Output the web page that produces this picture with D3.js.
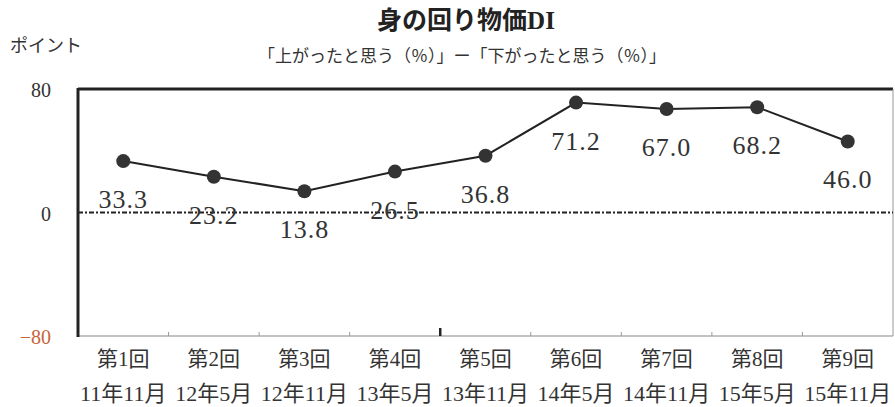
<!DOCTYPE html>
<html><head><meta charset="utf-8">
<script src="https://cdn.jsdelivr.net/npm/d3@7"></script>
<style>
body{margin:0;background:#fff;}
svg{display:block;}
</style></head>
<body>
<svg id="c" width="895" height="407"></svg>
<script>
const rounds = ["第1回","第2回","第3回","第4回","第5回","第6回","第7回","第8回","第9回"];
const periods = ["11年11月","12年5月","12年11月","13年5月","13年11月","14年5月","14年11月","15年5月","15年11月"];
const values = [33.3, 23.2, 13.8, 26.5, 36.8, 71.2, 67.0, 68.2, 46.0];
const yTicks = [80, 0, -80];
const title = "身の回り物価DI";
const subtitle = "「上がったと思う（％）」ー「下がったと思う（％）」";
const yUnit = "ポイント";

const svg = d3.select("#c");
const L = 78, R = 893, T = 89, B = 336;
const jp = "'Liberation Serif', 'Noto Sans CJK JP', serif";
const serif = "'Liberation Serif', 'DejaVu Serif', serif";

const x = d3.scaleBand().domain(rounds).range([L, R]);
const y = d3.scaleLinear().domain([-80, 80]).range([B, T]);

// title
svg.append("text").attr("x", 466).attr("y", 29).attr("text-anchor","middle")
  .attr("font-family", jp).attr("font-size", 25).attr("font-weight","bold").attr("fill","#222")
  .text(title);
svg.append("text").attr("x", 462).attr("y", 62).attr("text-anchor","middle")
  .attr("font-family", jp).attr("font-size", 17).attr("fill","#333")
  .text(subtitle);
svg.append("text").attr("x", 10).attr("y", 52)
  .attr("font-family", jp).attr("font-size", 18).attr("fill","#333")
  .text(yUnit);

// borders
svg.append("line").attr("x1", L).attr("x2", R).attr("y1", T).attr("y2", T)
  .attr("stroke","#222").attr("stroke-width",3);
svg.append("line").attr("x1", R).attr("x2", R).attr("y1", T).attr("y2", B)
  .attr("stroke","#999").attr("stroke-width",1);
svg.append("line").attr("x1", L).attr("x2", R).attr("y1", B).attr("y2", B)
  .attr("stroke","#888").attr("stroke-width",1.2);
svg.append("line").attr("x1", L).attr("x2", L).attr("y1", T-1).attr("y2", B+1)
  .attr("stroke","#222").attr("stroke-width",3);

// x ticks (band boundaries)
const boundaries = rounds.slice(1).map(r => x(r));
svg.selectAll("line.xt").data(boundaries).enter().append("line")
  .attr("x1", d=>d).attr("x2", d=>d).attr("y1", B).attr("y2", (d,i)=> i===3 ? B-8 : B-4)
  .attr("stroke", (d,i)=> i===3 ? "#222" : "#999").attr("stroke-width", (d,i)=> i===3 ? 2.5 : 1);

// y tick labels
svg.selectAll("text.yt").data(yTicks).enter().append("text")
  .attr("x", 51).attr("y", d => y(d) + 8).attr("text-anchor","end")
  .attr("font-family", serif).attr("font-size", 20)
  .attr("fill", d => d < 0 ? "#c8643c" : "#333")
  .text(d => d < 0 ? "−" + Math.abs(d) : d);

// zero line
svg.append("line").attr("x1", L).attr("x2", R).attr("y1", y(0)).attr("y2", y(0))
  .attr("stroke","#222").attr("stroke-width",2).attr("stroke-dasharray","5,2,2,2");

// x labels
const g = svg.append("g");
g.selectAll("text.r").data(rounds).enter().append("text")
  .attr("x", d => x(d) + x.bandwidth()/2).attr("y", 366).attr("text-anchor","middle")
  .attr("font-family", jp).attr("font-size", 21).attr("fill","#333")
  .text(d => d);
g.selectAll("text.p").data(periods).enter().append("text")
  .attr("x", (d,i) => x(rounds[i]) + x.bandwidth()/2).attr("y", 401).attr("text-anchor","middle")
  .attr("font-family", jp).attr("font-size", 22).attr("fill","#333")
  .text(d => d);

// line
const cx = (d,i) => x(rounds[i]) + x.bandwidth()/2;
svg.append("path").datum(values)
  .attr("d", d3.line().x(cx).y(d => y(d)))
  .attr("fill","none").attr("stroke","#222").attr("stroke-width",2);
svg.selectAll("circle.m").data(values).enter().append("circle")
  .attr("cx", cx).attr("cy", d => y(d)).attr("r", 7).attr("fill","#333");

// data labels
svg.selectAll("text.v").data(values).enter().append("text")
  .attr("x", (d,i) => cx(d,i)).attr("y", d => y(d) + 47).attr("text-anchor","middle")
  .attr("font-family", serif).attr("font-size", 26).attr("fill","#333")
  .attr("letter-spacing", 1)
  .text(d => d.toFixed(1));
</script>
</body></html>
